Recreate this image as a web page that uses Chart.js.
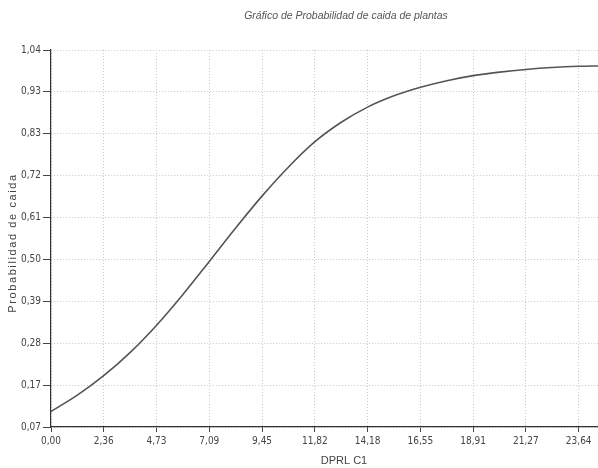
<!DOCTYPE html>
<html>
<head>
<meta charset="utf-8">
<script src="https://cdn.jsdelivr.net/npm/chart.js@4.4.1/dist/chart.umd.min.js"></script>
<style>
  html,body{margin:0;padding:0;background:#fff;}
  #wrap{position:relative;width:598px;height:468px;}
</style>
</head>
<body>
<div id="wrap"><canvas id="probChart"></canvas></div>
<script>
// DPRL C1 values and the fall probability
const dprl = [0, 1.18, 2.36, 3.55, 4.73, 5.91, 7.09, 8.27, 9.45, 10.64, 11.82, 13.0, 14.18, 15.36, 16.55, 17.73, 18.91, 20.09, 21.27, 22.45, 23.64, 24.5];
const probCaida = [0.110, 0.152, 0.202, 0.262, 0.332, 0.411, 0.496, 0.582, 0.664, 0.739, 0.804, 0.854, 0.893, 0.922, 0.944, 0.961, 0.974, 0.983, 0.990, 0.995, 0.998, 0.999];

const xTickLabels = ['0,00','2,36','4,73','7,09','9,45','11,82','14,18','16,55','18,91','21,27','23,64'];
const yTickLabels = ['0,07','0,17','0,28','0,39','0,50','0,61','0,72','0,83','0,93','1,04'];

const xMin = 0, xStep = 2.3636, xMax = 24.5;
const yMin = 0.07, yMax = 1.04;
const yStep = (yMax - yMin) / (yTickLabels.length - 1);

const chartTitle = 'Gráfico de Probabilidad de caida de plantas';
const yTitle = 'Probabilidad de caida';
const xTitle = 'DPRL C1';

const tickFont = {family:'"Liberation Sans Narrow","DejaVu Sans Condensed",sans-serif', size:10};

const textPlugin = {
  id:'textPlugin',
  afterDraw(chart){
    const ctx = chart.ctx;
    ctx.save();
    ctx.fillStyle = '#555';
    ctx.textAlign = 'center';
    ctx.textBaseline = 'middle';
    ctx.font = 'italic 10.5px "Liberation Sans Narrow", sans-serif';
    ctx.fillText(chartTitle, 346, 16);

    ctx.fillStyle = '#444';
    ctx.font = '11px "Liberation Sans", sans-serif';
    ctx.fillText(xTitle, 344, 461);

    ctx.translate(13, 243);
    ctx.rotate(-Math.PI/2);
    ctx.letterSpacing = '1.6px';
    ctx.font = '11px "Liberation Sans", sans-serif';
    ctx.fillText(yTitle, 0, 0);
    ctx.restore();
  }
};

new Chart(document.getElementById('probChart'), {
  type:'line',
  data:{
    datasets:[{
      data: dprl.map((x,i)=>({x:x, y:probCaida[i]})),
      borderColor:'#555',
      borderWidth:1.6,
      pointRadius:0,
      cubicInterpolationMode:'monotone',
      fill:false
    }]
  },
  options:{
    responsive:true,
    maintainAspectRatio:false,
    animation:false,
    layout:{padding:{top:50, right:0, left:0, bottom:0}},
    plugins:{legend:{display:false}, tooltip:{enabled:false}, title:{display:false}},
    scales:{
      x:{
        type:'linear',
        min:xMin, max:xMax,
        afterBuildTicks:(axis)=>{ axis.ticks = xTickLabels.map((l,i)=>({value:xMin + i*xStep})); },
        afterFit:(axis)=>{ axis.height = 41; },
        ticks:{
          autoSkip:false, maxRotation:0, padding:3, color:'#444', font:tickFont,
          callback:(v,i)=>xTickLabels[i]
        },
        grid:{color:'#c8c8c8', lineWidth:1, tickLength:5, tickColor:'#444', tickBorderDash:[0,0]},
        border:{display:true, color:'#333', width:1.2, dash:[1,2]}
      },
      y:{
        type:'linear',
        min:yMin, max:yMax,
        afterBuildTicks:(axis)=>{ axis.ticks = yTickLabels.map((l,i)=>({value:yMin + i*yStep})); },
        afterFit:(axis)=>{ axis.width = 51; },
        ticks:{
          autoSkip:false, padding:2, color:'#444', font:tickFont,
          callback:(v,i)=>yTickLabels[i]
        },
        grid:{color:'#c8c8c8', lineWidth:1, tickLength:8, tickColor:'#444', tickBorderDash:[0,0]},
        border:{display:true, color:'#333', width:1.2, dash:[1,2]}
      }
    }
  },
  plugins:[textPlugin]
});
</script>
</body>
</html>
